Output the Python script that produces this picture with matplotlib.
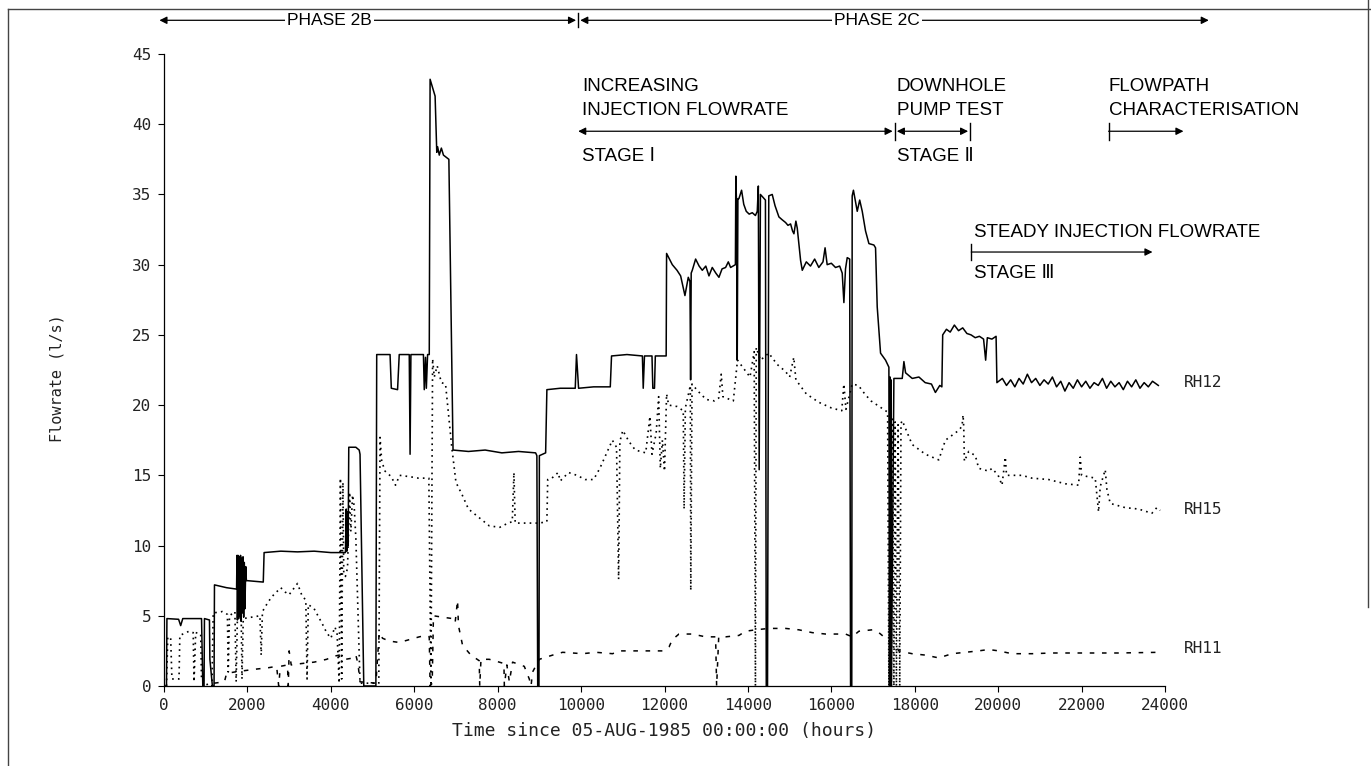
import matplotlib
matplotlib.use("Agg")
import matplotlib.pyplot as plt
from matplotlib.lines import Line2D

# RH12 injection well flowrate (solid)
rh12_t = [0, 60, 70, 350, 400, 450, 900, 930, 960, 970, 1090, 1100, 1160, 1200, 1210, 1500, 1740,
          1750, 1760, 1775, 1790, 1805, 1820, 1835, 1850, 1865, 1880, 1895, 1910, 1925, 1940, 1960, 1975,
          2000, 2380, 2400, 2800, 3200, 3600, 4000, 4350, 4370, 4385, 4400, 4415, 4430, 4600, 4680, 4700,
          4790, 5080, 5100, 5420, 5450, 5600, 5640, 5880, 5900, 5920, 6220, 6240, 6270, 6290, 6320, 6360,
          6380, 6430, 6500, 6540, 6560, 6600, 6650, 6700, 6830, 6930, 7300, 7700, 8100, 8500, 8910, 8940,
          8960, 8990, 9000, 9150, 9180, 9500, 9860, 9890, 9940, 10300, 10700, 10730, 11100, 11470, 11490,
          11520, 11700, 11720, 11760, 11780, 12040,
          12050, 12187, 12300, 12387, 12490, 12570, 12610, 12626, 12640, 12666, 12746, 12830, 12906, 12990,
          13066, 13145, 13230, 13305, 13380, 13465, 13530, 13585, 13700, 13710, 13730, 13744, 13760, 13784,
          13848, 13900, 13960, 14030, 14104, 14180, 14224, 14250, 14270, 14300, 14420, 14440, 14470, 14500,
          14583, 14650, 14743, 14820, 14903, 14960, 15023, 15070, 15103, 15150, 15183, 15263, 15303, 15400,
          15500, 15600, 15700, 15800, 15850, 15900, 16000, 16100, 16200, 16261, 16301, 16340, 16381, 16440,
          16461, 16490, 16500, 16530, 16621, 16680, 16741, 16820, 16901, 17020, 17060, 17100, 17180, 17300,
          17380, 17395, 17410, 17420, 17430, 17440, 17500, 17700, 17740, 17780, 17940, 18100,
          18250, 18400, 18495, 18600, 18650, 18670, 18760, 18850, 18950, 19050, 19150, 19250, 19350, 19450,
          19550, 19650, 19700, 19740, 19850, 19950, 19970, 20100, 20200, 20300, 20400, 20500, 20600, 20700,
          20800, 20900, 21000, 21100, 21200, 21300, 21400, 21500, 21600, 21700, 21800, 21900, 22000, 22100,
          22200, 22300, 22400, 22500, 22600, 22700, 22800, 22900, 23000, 23100, 23200, 23300, 23400, 23500,
          23600, 23700, 23840]
rh12_q = [0, 0, 4.8, 4.75, 4.3, 4.8, 4.8, 0, 0, 4.8, 4.7, 1.9, 0, 0, 7.2, 7.0, 6.9,
          9.3, 4.7, 9.3, 4.8, 9.2, 5.0, 9.3, 4.6, 9.1, 5.2, 9.2, 4.9, 8.8, 5.5, 8.5, 7.5,
          7.5, 7.4, 9.5, 9.6, 9.55, 9.6, 9.5, 9.5, 12.6, 9.6, 12.4, 10.0, 17.0, 17.0, 16.8, 16.5,
          0, 0, 23.6, 23.6, 21.2, 21.1, 23.6, 23.6, 16.5, 23.6, 23.6, 21.1, 23.4, 21.2, 23.6, 23.6,
          43.2, 42.7, 42.0, 38.0, 38.4, 37.8, 38.3, 37.8, 37.5, 16.8, 16.7, 16.8, 16.6, 16.7, 16.6, 16.4,
          0, 0, 16.4, 16.6, 21.1, 21.2, 21.2, 23.6, 21.2, 21.3, 21.3, 23.5, 23.6, 23.5, 21.2,
          23.5, 23.5, 21.2, 21.2, 23.5, 23.5,
          30.8, 30.0, 29.6, 29.2, 27.8, 29.1, 28.8, 21.8, 29.4, 29.6, 30.4, 29.9, 29.6, 29.9,
          29.2, 29.8, 29.4, 29.1, 29.7, 29.8, 30.2, 29.8, 30.0, 36.3, 34.0, 23.2, 34.7, 34.7,
          35.3, 34.3, 33.8, 33.6, 33.7, 33.5, 33.8, 35.6, 15.4, 35.0, 34.6, 0, 0, 34.9,
          35.0, 34.2, 33.4, 33.2, 33.0, 32.8, 32.9, 32.4, 32.2, 33.1, 32.6, 30.3, 29.6, 30.2,
          29.9, 30.4, 29.8, 30.2, 31.2, 30.0, 30.1, 29.8, 29.9, 29.4, 27.3, 29.7, 30.5, 30.4,
          0, 0, 34.9, 35.3, 33.8, 34.6, 33.8, 32.4, 31.5, 31.4, 31.2, 27.0, 23.7, 23.2,
          22.7, 0, 22.0, 0, 21.8, 0, 21.9, 21.9, 23.1, 22.3, 21.9, 22.0,
          21.6, 21.5, 20.9, 21.4, 21.3, 25.0, 25.4, 25.2, 25.7, 25.3, 25.5, 25.1, 25.0, 24.8,
          24.9, 24.7, 23.2, 24.8, 24.7, 24.9, 21.6, 21.9, 21.4, 21.8, 21.3, 21.9, 21.5, 22.2,
          21.6, 21.9, 21.4, 21.8, 21.5, 22.0, 21.3, 21.7, 21.0, 21.6, 21.2, 21.8, 21.3, 21.7,
          21.2, 21.6, 21.4, 21.9, 21.2, 21.7, 21.3, 21.6, 21.1, 21.7, 21.3, 21.8, 21.2, 21.6,
          21.3, 21.7, 21.4]

# RH15 production well (dotted)
rh15_t = [60, 90, 160, 190, 360, 380, 600, 700, 720, 760, 880, 900, 1010, 1050, 1150, 1180, 1400, 1520,
          1540, 1570, 1700, 1730, 1760, 1850, 1870, 1900, 2100, 2300, 2330, 2360, 2500, 2600, 2800, 2900,
          3000, 3100, 3200, 3300, 3400, 3430, 3460, 3600, 3800, 3900, 4000, 4100, 4150, 4200, 4230, 4260,
          4290, 4310, 4350, 4400, 4450, 4480, 4520, 4560, 4600, 4700, 5150, 5180, 5220, 5300, 5450, 5550,
          5650, 5900, 6100, 6350, 6400, 6440, 6480, 6550, 6650, 6750, 6900, 7000, 7150, 7300, 7550, 7800,
          8050, 8250, 8350, 8390, 8420, 8700, 9000, 9180, 9200, 9300, 9450, 9500, 9700, 9900, 10100, 10300,
          10450, 10600, 10750, 10850, 10900, 10930, 11000, 11150, 11300, 11550, 11650, 11700, 11800, 11860,
          11900, 11950, 12000, 12050, 12100, 12300, 12450, 12470, 12500, 12620, 12630, 12660, 12800, 13000,
          13200, 13300, 13360, 13400, 13650, 13750, 13900, 14050, 14150, 14180, 14200, 14300, 14500, 14700,
          14900, 15000, 15100, 15150, 15400, 15700, 16000, 16250, 16300, 16350, 16500, 16650, 16800, 16950,
          17100, 17350, 17380, 17410, 17440, 17470, 17500, 17530, 17560, 17600, 17640, 17670, 17700, 17936,
          18256, 18575, 18735, 19054, 19134, 19158, 19175, 19190, 19293, 19453, 19533, 19772, 19852, 20000,
          20092, 20172, 20200, 20571, 20810, 21210, 21609, 21928, 21968, 22000, 22327, 22407, 22447, 22567,
          22607, 22687, 23046, 23365, 23685, 23804, 23884]
rh15_q = [0, 3.5, 3.4, 0.5, 0.5, 3.6, 3.9, 3.8, 0.3, 3.8, 3.7, 0.4, 0.3, 0, 0, 5.2, 5.3, 5.1,
          1.0, 5.0, 5.3, 0.3, 4.9, 5.2, 0.5, 4.8, 4.9, 5.0, 2.2, 5.3, 6.0, 6.4, 7.0, 6.7,
          6.5, 6.9, 7.3, 6.5, 6.1, 0.5, 5.8, 5.5, 4.4, 3.8, 3.4, 4.2, 3.7, 0.2, 14.8, 0.5,
          14.5, 8.0, 7.8, 8.4, 13.8, 11.0, 13.6, 12.8, 10.5, 0.2, 0.2, 17.7, 16.0, 15.3, 14.9, 14.3,
          15.0, 14.9, 14.8, 14.8, 0.2, 23.3, 22.0, 22.8, 21.6, 21.5, 17.0, 14.5, 13.6, 12.6, 12.0, 11.4,
          11.3, 11.6, 11.7, 15.2, 11.6, 11.6, 11.6, 11.7, 14.7, 14.8, 15.2, 14.6, 15.2, 15.0, 14.7, 14.7,
          15.5, 16.5, 17.5, 17.0, 7.6, 17.4, 18.2, 17.4, 16.8, 16.6, 19.2, 16.5, 18.0, 20.6,
          15.5, 17.5, 15.3, 20.8, 20.0, 19.9, 19.6, 12.6, 19.8, 21.4, 6.8, 21.5, 21.0, 20.4,
          20.3, 20.5, 22.2, 20.6, 20.3, 23.2, 22.6, 22.0, 23.8, 0, 24.1, 23.2, 23.7, 22.9,
          22.4, 22.0, 23.4, 21.8, 20.8, 20.2, 19.8, 19.6, 21.5, 19.7, 21.5, 21.4, 20.8, 20.3,
          20.0, 19.5, 0, 19.3, 0, 19.0, 0, 18.8, 0, 18.6, 0, 18.7, 18.9, 17.2,
          16.5, 16.1, 17.5, 18.2, 18.5, 19.3, 18.4, 16.0, 16.7, 16.4, 15.5, 15.3, 15.5, 15.0,
          14.3, 16.3, 15.0, 15.0, 14.8, 14.7, 14.4, 14.3, 16.3, 15.0, 14.8, 12.4, 14.2, 15.4,
          14.0, 13.0, 12.7, 12.6, 12.3, 12.7, 12.5]

# RH11 production well (dashed)
rh11_t = [1200, 1450, 1500, 1700, 1950, 2200, 2500, 2700, 2750, 2790, 2960, 2980, 3000, 3050, 3300, 3600,
          3900, 4050, 4200, 4350, 4550, 4600, 4650, 4700, 5080, 5160, 5240, 5400, 5640, 5880, 6120, 6280,
          6360, 6380, 6430, 6460, 6679, 6919, 6980, 7038, 7060, 7158, 7358, 7558, 7570, 7600, 7798, 8038,
          8150, 8160, 8220, 8280, 8358, 8638, 8758, 8800, 8838, 8998, 9317, 9557, 10036, 10356, 10755, 10914,
          11473, 11952, 12112, 12187, 12347, 12666, 12986, 13225, 13250, 13300, 13465, 13784, 13944, 14184,
          14503, 14903, 15223, 15542, 15862, 16341, 16501, 16661, 16980, 17140, 17380, 17540, 17617, 17936,
          18256, 18575, 18895, 19214, 19533, 19772, 20012, 20331, 20810, 21289, 22088, 22886, 23884]
rh11_q = [0.2, 0.3, 0.9, 1.0, 1.1, 1.2, 1.3, 1.4, 0, 1.4, 1.5, 0, 2.5, 1.5, 1.6, 1.7,
          1.9, 2.1, 2.2, 1.9, 2.0, 2.2, 1.6, 0.3, 0.2, 3.8, 3.4, 3.2, 3.1, 3.3, 3.5, 3.6,
          3.5, 0, 0.2, 5.0, 4.9, 4.8, 4.5, 6.1, 4.3, 2.9, 2.2, 1.8, 0, 1.9, 1.9, 1.7,
          1.6, 0, 1.5, 0.3, 1.7, 1.4, 0.5, 0, 1.0, 1.9, 2.2, 2.4, 2.3, 2.4, 2.3, 2.5,
          2.5, 2.5, 2.8, 3.3, 3.7, 3.7, 3.5, 3.5, 0, 3.5, 3.5, 3.6, 3.9, 4.0,
          4.1, 4.1, 4.0, 3.8, 3.7, 3.7, 3.5, 3.9, 4.0, 3.8, 3.2, 2.9, 2.5, 2.3,
          2.2, 2.0, 2.3, 2.4, 2.5, 2.6, 2.5, 2.3, 2.3, 2.35, 2.35, 2.35, 2.4]

x_ticks = list(range(0, 24001, 2000))
y_ticks = list(range(0, 46, 5))

W, H = 1371, 766
fig = plt.figure(figsize=(W / 100, H / 100), dpi=100)
fig.patch.set_facecolor("white")

ax = fig.add_axes([164 / W, 1 - 686 / H, (1165 - 164) / W, (686 - 54) / H])
ax.plot(rh12_t, rh12_q, color="black", lw=1.1)
ax.plot(rh15_t, rh15_q, color="black", lw=1.2, linestyle=(0, (1, 2.5)))
ax.plot(rh11_t, rh11_q, color="black", lw=1.1, linestyle=(0, (3, 5)))

ax.set_xlim(0, 24000)
ax.set_ylim(0, 45)
ax.set_xticks(x_ticks)
ax.set_yticks(y_ticks)
mono = "DejaVu Sans Mono"
ax.set_xticklabels([str(v) for v in x_ticks], family=mono, fontsize=11.5, color="#222222")
ax.set_yticklabels([str(v) for v in y_ticks], family=mono, fontsize=11.5, color="#222222")
ax.tick_params(direction="out", length=4, width=0.8, pad=5)
for s in ["top", "right"]:
    ax.spines[s].set_visible(False)
for s in ["left", "bottom"]:
    ax.spines[s].set_linewidth(0.9)

ax.set_xlabel("Time since 05-AUG-1985 00:00:00 (hours)", family=mono, fontsize=13, color="#222222", labelpad=6)
fig.text(57 / W, 1 - 378 / H, "Flowrate (l/s)", rotation=90, family=mono, fontsize=11,
         color="#222222", ha="center", va="center")

# series labels
lab = dict(family=mono, fontsize=11.5, color="#222222", va="center", ha="left", clip_on=False)
ax.text(24450, 21.6, "RH12", **lab)
ax.text(24450, 12.6, "RH15", **lab)
ax.text(24450, 2.7, "RH11", **lab)

# annotations
sans = ["Liberation Sans", "DejaVu Sans"]
ann = dict(family=sans, fontsize=13.5, color="black", va="center", ha="left", clip_on=False)
arr2 = dict(arrowstyle="<|-|>", lw=0.9, color="black", mutation_scale=11, shrinkA=0, shrinkB=0)
arr1 = dict(arrowstyle="-|>", lw=0.9, color="black", mutation_scale=11, shrinkA=0, shrinkB=0)


def arrow(x0, x1, y, props):
    ax.annotate("", xy=(x1, y), xytext=(x0, y), xycoords="data", textcoords="data",
                arrowprops=props, annotation_clip=False)


def tick(x, y, h=0.6):
    ax.add_line(Line2D([x, x], [y - h, y + h], color="black", lw=1.0, clip_on=False))


# phase line
py = 47.4
arrow(-110, 9880, py, arr2)
arrow(9980, 25050, py, arr2)
tick(9930, py, 0.5)
box = dict(facecolor="white", edgecolor="none", pad=1.5)
ax.text(3970, py, "PHASE 2B", family=sans, fontsize=12.5, ha="center", va="center", bbox=box, clip_on=False)
ax.text(17100, py, "PHASE 2C", family=sans, fontsize=12.5, ha="center", va="center", bbox=box, clip_on=False)

# stage I / II / flowpath
ya = 39.5
arrow(9930, 17470, ya, arr2)
tick(17521, ya)
arrow(17570, 19280, ya, arr2)
tick(19330, ya)
tick(22647, ya)
arrow(22647, 24443, ya, arr1)
ax.text(10024, 42.7, "INCREASING", **ann)
ax.text(10024, 41.0, "INJECTION FLOWRATE", **ann)
ax.text(10024, 37.7, "STAGE \u2160", **ann)
ax.text(17569, 42.7, "DOWNHOLE", **ann)
ax.text(17569, 41.0, "PUMP TEST", **ann)
ax.text(17569, 37.7, "STAGE \u2161", **ann)
ax.text(22647, 42.7, "FLOWPATH", **ann)
ax.text(22647, 41.0, "CHARACTERISATION", **ann)

# stage III
yb = 30.9
tick(19355, yb)
arrow(19355, 23700, yb, arr1)
ax.text(19420, 32.3, "STEADY INJECTION FLOWRATE", **ann)
ax.text(19420, 29.4, "STAGE \u2162", **ann)

# scanned page border
fig.add_artist(Line2D([8 / W, 1.0], [1 - 9 / H, 1 - 9 / H], transform=fig.transFigure, color="#444444", lw=1.0))
fig.add_artist(Line2D([8 / W, 8 / W], [0, 1 - 9 / H], transform=fig.transFigure, color="#444444", lw=1.0))
fig.add_artist(Line2D([1368 / W, 1368 / W], [1 - 607 / H, 1.0], transform=fig.transFigure, color="#444444", lw=1.0))

fig.savefig("out.png", dpi=100)
